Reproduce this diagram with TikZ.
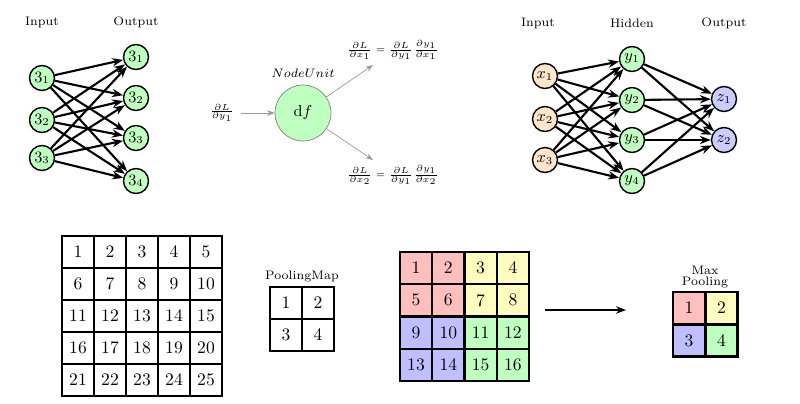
\documentclass[tikz,border=0pt]{standalone}
\usetikzlibrary{arrows.meta}
\begin{document}
\begin{tikzpicture}[x=0.02cm,y=-0.02cm,
  neuron/.style={circle,draw=black,thick,minimum size=0.5cm,inner sep=0pt,font=\small},
  inp/.style={neuron,fill=orange!20},
  hid/.style={neuron,fill=green!25},
  outp/.style={neuron,fill=blue!20},
  conn/.style={-{Stealth[length=2.2mm]},very thick},
  thin arr/.style={-{Stealth[length=1.5mm]},gray!80,thin},
  lbl/.style={font=\scriptsize},
  cell/.style={draw=black,very thick,minimum size=0.64cm,inner sep=0pt,font=\normalsize},
]
\useasboundingbox (0,0) rectangle (800,403);
% left network
\node[lbl] (tl1) at (42,22) {Input};
\node[lbl] (tl2) at (136,22) {Output};
\foreach \i/\y in {1/78,2/120,3/158} \node[hid] (a\i) at (42,\y) {$3_\i$};
\foreach \j/\y in {1/57,2/98,3/138,4/181} \node[hid] (b\j) at (136,\y) {$3_\j$};
\foreach \i in {1,2,3} \foreach \j in {1,...,4} \draw[conn] (a\i) -- (b\j);
% node unit
\node[circle,draw=gray,fill=green!25,minimum size=1.12cm,font=\small] (df) at (303,113) {d$f$};
\node[lbl] (nu) at (303,73) {$NodeUnit$};
\node[font=\tiny] (gin) at (222,113) {$\frac{\partial L}{\partial y_1}$};
\coordinate (o1) at (373,65);
\coordinate (o2) at (373,160);
\node[font=\tiny] (g1) at (393,50) {$\frac{\partial L}{\partial x_1}=\frac{\partial L}{\partial y_1}\frac{\partial y_1}{\partial x_1}$};
\node[font=\tiny] (g2) at (393,175) {$\frac{\partial L}{\partial x_2}=\frac{\partial L}{\partial y_1}\frac{\partial y_1}{\partial x_2}$};
\draw[thin arr] (gin) -- (df);
\draw[thin arr] (df) -- (o1);
\draw[thin arr] (df) -- (o2);
% right network
\node[lbl] (tr1) at (538,23) {Input};
\node[lbl] (tr2) at (632,23) {Hidden};
\node[lbl] (tr3) at (724,23) {Output};
\foreach \i/\y in {1/76,2/119,3/160} \node[inp] (x\i) at (545,\y) {$x_\i$};
\foreach \j/\y in {1/59,2/100,3/140,4/181} \node[hid] (y\j) at (632,\y) {$y_\j$};
\foreach \k/\y in {1/99,2/140} \node[outp] (z\k) at (724,\y) {$z_\k$};
\foreach \i in {1,2,3} \foreach \j in {1,...,4} \draw[conn] (x\i) -- (y\j);
\foreach \j in {1,...,4} \foreach \k in {1,2} \draw[conn] (y\j) -- (z\k);
% 5x5 grid
\foreach \r in {0,...,4} \foreach \c in {0,...,4} {
  \pgfmathtruncatemacro{\n}{\r*5+\c+1}
  \node[cell] (g\n) at (78+32*\c,252+32*\r) {\n};
}
% pooling map
\node[lbl] (pm) at (302,276) {PoolingMap};
\foreach \n/\c/\r in {1/0/0,2/1/0,3/0/1,4/1/1}
  \node[cell] (p\n) at (286+32*\c,303+32*\r) {\n};
% 4x4 coloured grid
\foreach \r in {0,...,3} \foreach \c in {0,...,3} {
  \pgfmathtruncatemacro{\n}{\r*4+\c+1}
  \pgfmathtruncatemacro{\q}{(\r>1)*2+(\c>1)+1}
  \ifcase\q\or\def\cc{red!25}\or\def\cc{yellow!25}\or\def\cc{blue!25}\or\def\cc{green!25}\fi
  \node[cell,fill=\cc,minimum size=0.645cm] (h\n) at (416+32.3*\c,268+32.3*\r) {\n};
}
\coordinate (as) at (545,310);
\coordinate (ae) at (626,310);
\draw[-{Stealth[length=2mm]},thick] (as) -- (ae);
% max pooling
\node[lbl,align=center] (mp) at (705,277) {Max\\[-2pt]Pooling};
\foreach \n/\c/\r/\cc in {1/0/0/red!25,2/1/0/yellow!25,3/0/1/blue!25,4/1/1/green!25}
  \node[cell,fill=\cc] (m\n) at (689+32.5*\c,308+32.5*\r) {\n};
\end{tikzpicture}
\end{document}
